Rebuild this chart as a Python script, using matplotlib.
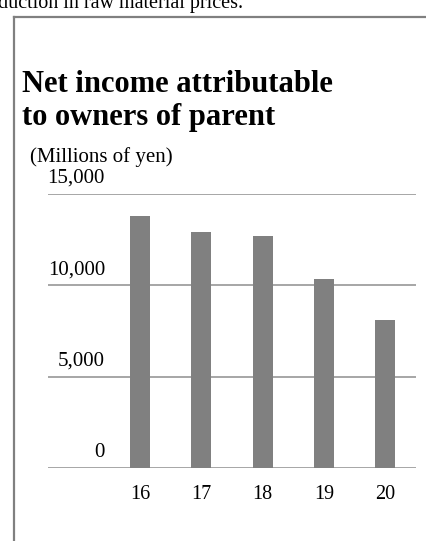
import matplotlib
matplotlib.use("Agg")
import matplotlib.pyplot as plt
from matplotlib.lines import Line2D
import matplotlib.transforms as mtransforms

plt.rcParams['font.family'] = ['Liberation Serif', 'DejaVu Serif']

years = ["16", "17", "18", "19", "20"]
income = [13800, 12900, 12720, 10350, 8100]
yticks = [0, 5000, 10000, 15000]
ytick_labels = ["0", "5,000", "10,000", "15,000"]

W, H = 427, 541
fig = plt.figure(figsize=(W / 100, H / 100), dpi=100)

# axes placed in pixel terms
left, right = 48, 416
top_px, bottom_px = 194, 468
ax = fig.add_axes([left / W, 1 - bottom_px / H, (right - left) / W, (bottom_px - top_px) / H])

x = list(range(len(years)))
ax.bar(x, income, width=0.33, color="#808080", zorder=3)
ax.set_xlim(-1.5, 4.5)
ax.set_ylim(0, 15000)

for v in yticks:
    ax.axhline(v, color="#a6a6a6", lw=1.4, zorder=1)

for s in ax.spines.values():
    s.set_visible(False)
ax.set_yticks([])
ax.set_xticks(x)
ax.set_xticklabels(years, fontsize=14.5)
ax.tick_params(axis="x", length=0, pad=12)

trans = mtransforms.blended_transform_factory(ax.transAxes, ax.transData)
for v, lab in zip(yticks, ytick_labels):
    ax.text(0.155, v + 330, lab, transform=trans, ha="right", va="bottom", fontsize=15)

# frame lines
fig.add_artist(Line2D([13.7 / W, 13.7 / W], [0, 1 - 17 / H], transform=fig.transFigure, color="#808080", lw=1.6))
fig.add_artist(Line2D([13.7 / W, 1], [1 - 17 / H, 1 - 17 / H], transform=fig.transFigure, color="#808080", lw=1.6))

fig.text(-0.005, 1 - 8 / H, "duction in raw material prices.", fontsize=14.5, va="baseline", ha="left")
fig.text(22 / W, 1 - 92 / H, "Net income attributable", fontsize=22, fontweight="bold", va="baseline")
fig.text(22 / W, 1 - 125 / H, "to owners of parent", fontsize=22, fontweight="bold", va="baseline")
fig.text(30 / W, 1 - 162 / H, "(Millions of yen)", fontsize=15, va="baseline")

fig.savefig("out.png", dpi=100)
